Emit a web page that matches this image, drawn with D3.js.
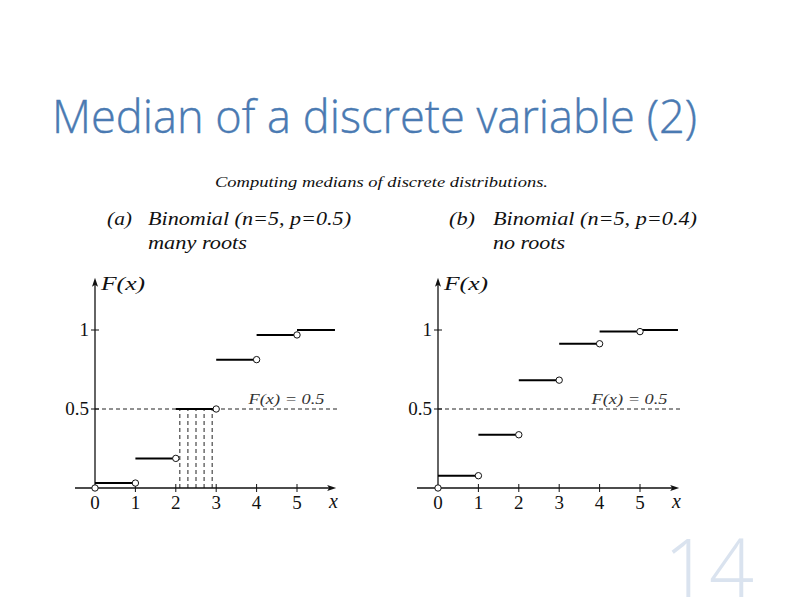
<!DOCTYPE html>
<html><head><meta charset="utf-8">
<script src="https://cdn.jsdelivr.net/npm/d3@7"></script>
<style>html,body{margin:0;padding:0;background:#fff;}svg{display:block;}</style>
</head><body>
<script>
const titleText = "Median of a discrete variable (2)";
const subtitleText = "Computing medians of discrete distributions.";
const pageNumber = "14";
const xTicks = [0, 1, 2, 3, 4, 5];
const yTicks = [0.5, 1];
const yTickLabels = ["0.5", "1"];
const cdfA = [0.03125, 0.1875, 0.5, 0.8125, 0.96875, 1];
const cdfB = [0.07776, 0.33696, 0.68256, 0.91296, 0.98976, 1];
const rootsA = [2.1, 2.3, 2.5, 2.7, 2.9];
const rootsB = [];
const panelLetters = ["(a)", "(b)"];
const panelNames = ["Binomial (n=5, p=0.5)", "Binomial (n=5, p=0.4)"];
const panelNotes = ["many roots", "no roots"];
const medianLevel = 0.5;

const svg = d3.select("body").append("svg").attr("width", 800).attr("height", 600);
const serif = "'Liberation Serif','DejaVu Serif',serif";

svg.append("text").attr("x", 52).attr("y", 133)
  .attr("font-family", "'Open Sans','Noto Sans',sans-serif").attr("font-weight", 300)
  .attr("font-size", 46).attr("fill", "#4a7ab2")
  .attr("stroke", "#4a7ab2").attr("stroke-width", 0.4)
  .attr("textLength", 645).attr("lengthAdjust", "spacingAndGlyphs").text(titleText);

svg.append("text").attr("x", 215).attr("y", 187)
  .attr("font-family", serif).attr("font-style", "italic")
  .attr("font-size", 14.5).attr("fill", "#111")
  .attr("textLength", 333).attr("lengthAdjust", "spacingAndGlyphs").text(subtitleText);

svg.append("text").attr("x", 664).attr("y", 597)
  .attr("font-family", "'Open Sans','Noto Sans',sans-serif").attr("font-weight", 300)
  .attr("font-size", 82).attr("fill", "#dae3ef")
  .attr("textLength", 90).attr("lengthAdjust", "spacingAndGlyphs").text(pageNumber);

const panels = [
  {x0: 95, cdf: cdfA, roots: rootsA, letterX: 107, nameX: 148, nameW: 203, letterW: 25, noteW: 99, axisStart: 75},
  {x0: 438, cdf: cdfB, roots: rootsB, letterX: 449, nameX: 493, nameW: 204, letterW: 26, noteW: 72, axisStart: 417}
];

panels.forEach((p, i) => {
  const x = d3.scaleLinear().domain([0, 1]).range([p.x0, p.x0 + 40.4]);
  const y = d3.scaleLinear().domain([0, 1]).range([488, 330]);
  const g = svg.append("g");

  // panel captions
  g.append("text").attr("x", p.letterX).attr("y", 225).attr("font-family", serif)
    .attr("font-style", "italic").attr("font-size", 19).attr("fill", "#111")
    .attr("textLength", p.letterW).attr("lengthAdjust", "spacingAndGlyphs").text(panelLetters[i]);
  g.append("text").attr("x", p.nameX).attr("y", 225).attr("font-family", serif)
    .attr("font-style", "italic").attr("font-size", 19).attr("fill", "#111")
    .attr("textLength", p.nameW).attr("lengthAdjust", "spacingAndGlyphs").text(panelNames[i]);
  g.append("text").attr("x", p.nameX).attr("y", 249).attr("font-family", serif)
    .attr("font-style", "italic").attr("font-size", 19).attr("fill", "#111")
    .attr("textLength", p.noteW).attr("lengthAdjust", "spacingAndGlyphs").text(panelNotes[i]);

  // dashed median line
  g.append("line").attr("x1", x(0)).attr("x2", x(6.05))
    .attr("y1", y(medianLevel)).attr("y2", y(medianLevel))
    .attr("stroke", "#222").attr("stroke-width", 1).attr("stroke-dasharray", "4,3");
  g.append("text").attr("x", x(3.8)).attr("y", y(medianLevel) - 5)
    .attr("font-family", serif).attr("font-style", "italic").attr("font-size", 14)
    .attr("fill", "#333").attr("textLength", 76).attr("lengthAdjust", "spacingAndGlyphs")
    .text("F(x) = 0.5");

  // vertical roots
  g.selectAll(".root").data(p.roots).enter().append("line")
    .attr("x1", d => x(d)).attr("x2", d => x(d))
    .attr("y1", y(0)).attr("y2", y(medianLevel))
    .attr("stroke", "#222").attr("stroke-width", 1).attr("stroke-dasharray", "4,3");

  // axes
  const tipX = x(5.97), tipY = y(1.33);
  g.append("line").attr("x1", p.axisStart).attr("x2", tipX - 6).attr("y1", y(0)).attr("y2", y(0))
    .attr("stroke", "#111").attr("stroke-width", 1.3);
  g.append("path").attr("d", `M${tipX},${y(0)} L${tipX - 9},${y(0) - 3} L${tipX - 7},${y(0)} L${tipX - 9},${y(0) + 3} Z`)
    .attr("fill", "#111");
  g.append("line").attr("x1", x(0)).attr("x2", x(0)).attr("y1", y(0)).attr("y2", tipY + 6)
    .attr("stroke", "#111").attr("stroke-width", 1.3);
  g.append("path").attr("d", `M${x(0)},${tipY} L${x(0) - 3},${tipY + 9} L${x(0)},${tipY + 7} L${x(0) + 3},${tipY + 9} Z`)
    .attr("fill", "#111");

  // x ticks
  g.selectAll(".xt").data(xTicks.filter(d => d > 0)).enter().append("line")
    .attr("x1", d => x(d)).attr("x2", d => x(d)).attr("y1", y(0) - 4).attr("y2", y(0) + 4)
    .attr("stroke", "#111").attr("stroke-width", 1);
  g.selectAll(".xl").data(xTicks).enter().append("text")
    .attr("x", d => x(d)).attr("y", y(0) + 21).attr("text-anchor", "middle")
    .attr("font-family", serif).attr("font-size", 19).attr("fill", "#111").text(d => d);
  g.append("text").attr("x", x(5.9)).attr("y", y(0) + 20).attr("text-anchor", "middle")
    .attr("font-family", serif).attr("font-style", "italic").attr("font-size", 20).attr("fill", "#111").text("x");

  // y ticks
  g.selectAll(".yt").data(yTicks).enter().append("line")
    .attr("x1", x(0) - 4).attr("x2", x(0) + 4).attr("y1", d => y(d)).attr("y2", d => y(d))
    .attr("stroke", "#111").attr("stroke-width", 1);
  g.selectAll(".yl").data(yTicks).enter().append("text")
    .attr("x", x(0) - 6).attr("y", d => y(d) + 6).attr("text-anchor", "end")
    .attr("font-family", serif).attr("font-size", 19).attr("fill", "#111")
    .text((d, j) => yTickLabels[j]);
  g.append("text").attr("x", x(0) + 6).attr("y", tipY + 12)
    .attr("font-family", serif).attr("font-style", "italic").attr("font-size", 19).attr("fill", "#111")
    .attr("textLength", 44).attr("lengthAdjust", "spacingAndGlyphs").text("F(x)");

  // step segments
  g.selectAll(".seg").data(p.cdf).enter().append("line")
    .attr("x1", (d, k) => x(k)).attr("x2", (d, k) => x(k === p.cdf.length - 1 ? 5.94 : k + 1))
    .attr("y1", d => y(d)).attr("y2", d => y(d))
    .attr("stroke", "#000").attr("stroke-width", 2);

  // open circles
  g.selectAll(".pt").data(xTicks).enter().append("circle")
    .attr("cx", d => x(d)).attr("cy", (d, k) => y(k === 0 ? 0 : p.cdf[k - 1]))
    .attr("r", 3.2).attr("fill", "#fff").attr("stroke", "#111").attr("stroke-width", 1);
});
</script>
</body></html>
